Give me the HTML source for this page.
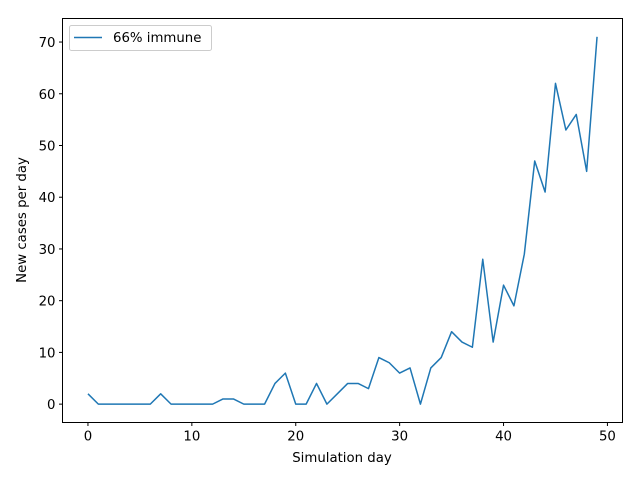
<!DOCTYPE html>
<html><head><meta charset="utf-8"><style>
html,body{margin:0;padding:0;background:#fff;}
svg text{font-family:"DejaVu Sans","Liberation Sans",sans-serif;font-size:13.3px;fill:#000;}
</style></head><body>
<svg id="chart" width="640" height="480" viewBox="0 0 640 480" xmlns="http://www.w3.org/2000/svg">
<rect width="640" height="480" fill="#fff"/>
<g id="ticks"></g>
<polyline id="line" fill="none" stroke="#1f77b4" stroke-width="1.5" stroke-linejoin="round"/>
<rect x="62.5" y="18.5" width="560" height="404" fill="none" stroke="#000" stroke-width="1"/>
<text x="342" y="462" text-anchor="middle">Simulation day</text>
<text transform="translate(26,220) rotate(-90)" text-anchor="middle">New cases per day</text>
<g>
<rect x="69.5" y="25.5" width="142" height="25" rx="2" fill="#fff" stroke="#ccc"/>
<line x1="74" y1="37.5" x2="102" y2="37.5" stroke="#1f77b4" stroke-width="1.5"/>
<text x="113" y="42">66% immune</text>
</g>
</svg>
<script>
const days=[0,1,2,3,4,5,6,7,8,9,10,11,12,13,14,15,16,17,18,19,20,21,22,23,24,25,26,27,28,29,30,31,32,33,34,35,36,37,38,39,40,41,42,43,44,45,46,47,48,49];
const cases=[2,0,0,0,0,0,0,2,0,0,0,0,0,1,1,0,0,0,4,6,0,0,4,0,2,4,4,3,9,8,6,7,0,7,9,14,12,11,28,12,23,19,29,47,41,62,53,56,45,71];
const xTicks=[0,10,20,30,40,50];
const yTicks=[0,10,20,30,40,50,60,70];
const L=62.5,R=622.5,T=18.5,B=422.5;
const xmin=-2.45,xmax=51.45,ymin=-3.55,ymax=74.55;
function sx(v){return L+(v-xmin)/(xmax-xmin)*(R-L);}
function sy(v){return B-(v-ymin)/(ymax-ymin)*(B-T);}
const NS="http://www.w3.org/2000/svg";
const g=document.getElementById('ticks');
xTicks.forEach(t=>{
 const l=document.createElementNS(NS,'line');
 l.setAttribute('x1',sx(t));l.setAttribute('x2',sx(t));l.setAttribute('y1',B);l.setAttribute('y2',B+3.5);l.setAttribute('stroke','#000');
 
 
 g.appendChild(l);
 const tx=document.createElementNS(NS,'text');
 tx.setAttribute('x',sx(t));tx.setAttribute('y',B+18);tx.setAttribute('text-anchor','middle');tx.textContent=t;
 
 
 g.appendChild(tx);
});
yTicks.forEach(t=>{
 const l=document.createElementNS(NS,'line');
 l.setAttribute('x1',L-3.5);l.setAttribute('x2',L);l.setAttribute('y1',sy(t));l.setAttribute('y2',sy(t));l.setAttribute('stroke','#000');
 
 
 g.appendChild(l);
 const tx=document.createElementNS(NS,'text');
 tx.setAttribute('x',L-7);tx.setAttribute('y',sy(t)+5);tx.setAttribute('text-anchor','end');tx.textContent=t;
 
 
 g.appendChild(tx);
});
document.getElementById('line').setAttribute('points',days.map((d,i)=>sx(d)+','+sy(cases[i])).join(' '));
</script>
</body></html>
